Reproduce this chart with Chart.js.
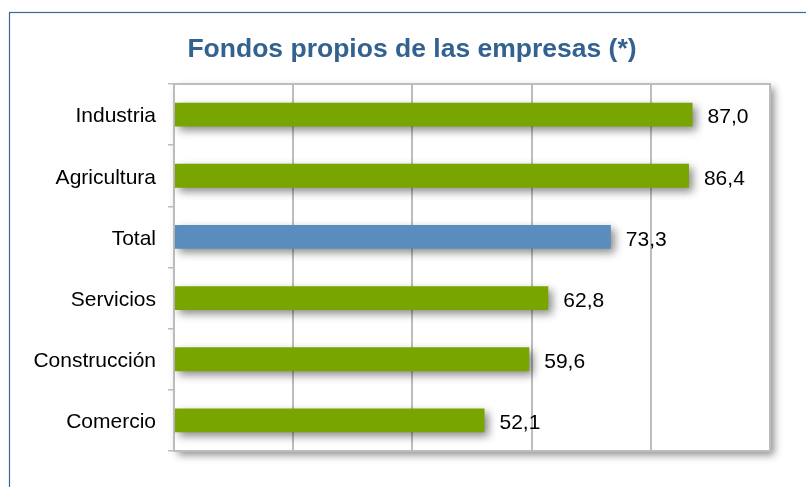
<!DOCTYPE html>
<html>
<head>
<meta charset="utf-8">
<script src="https://cdn.jsdelivr.net/npm/chart.js@4"></script>
<style>
  html, body { margin: 0; padding: 0; background: #ffffff; }
  #wrap { width: 806px; height: 487px; position: relative; }
</style>
</head>
<body>
<div id="wrap"><canvas id="c" width="806" height="487"></canvas></div>
<script>
const titleText = 'Fondos propios de las empresas (*)';
const categories = ['Industria', 'Agricultura', 'Total', 'Servicios', 'Construcción', 'Comercio'];
const values = [87.0, 86.4, 73.3, 62.8, 59.6, 52.1];
const xTicks = [0, 20, 40, 60, 80, 100];

const GREEN = '#78A500';
const BLUE = '#5A8CBE';
const GRID = '#BDBDBD';

const barColors = categories.map(c => c === 'Total' ? BLUE : GREEN);

const decorPlugin = {
  id: 'decor',
  beforeDraw(chart) {
    const ctx = chart.ctx;
    const a = chart.chartArea;
    ctx.save();
    ctx.fillStyle = '#ffffff';
    ctx.fillRect(0, 0, chart.width, chart.height);
    // outer frame
    ctx.strokeStyle = '#3D6890';
    ctx.lineWidth = 1.2;
    ctx.strokeRect(9.5, 12.5, 900, 600);
    // title
    ctx.fillStyle = '#336290';
    ctx.font = 'bold 26.5px "Liberation Sans", Arial, sans-serif';
    ctx.textAlign = 'center';
    ctx.textBaseline = 'alphabetic';
    ctx.fillText(titleText, 412, 57);
    // plot area with shadow
    ctx.shadowColor = 'rgba(0,0,0,0.45)';
    ctx.shadowBlur = 8;
    ctx.shadowOffsetX = 4;
    ctx.shadowOffsetY = 4;
    ctx.fillStyle = '#ffffff';
    ctx.fillRect(a.left, a.top, a.right - a.left, a.bottom - a.top);
    ctx.restore();
  },
  beforeDatasetsDraw(chart) {
    const ctx = chart.ctx;
    const a = chart.chartArea;
    ctx.save();
    ctx.strokeStyle = GRID;
    ctx.lineWidth = 2;
    ctx.strokeRect(a.left, a.top, a.right - a.left, a.bottom - a.top);
    ctx.restore();
    ctx.save();
    ctx.shadowColor = 'rgba(0,0,0,0.45)';
    ctx.shadowBlur = 8;
    ctx.shadowOffsetX = 4;
    ctx.shadowOffsetY = 4;
  },
  afterDatasetsDraw(chart) {
    const ctx = chart.ctx;
    ctx.restore();
    ctx.save();
    ctx.fillStyle = '#000000';
    ctx.font = '21px "Liberation Sans", Arial, sans-serif';
    ctx.textAlign = 'left';
    ctx.textBaseline = 'middle';
    const meta = chart.getDatasetMeta(0);
    meta.data.forEach((bar, i) => {
      const txt = values[i].toFixed(1).replace('.', ',');
      ctx.fillText(txt, bar.x + 15, bar.y + 3);
    });
    ctx.restore();
  }
};

new Chart(document.getElementById('c'), {
  type: 'bar',
  data: {
    labels: categories,
    datasets: [{
      data: values,
      backgroundColor: barColors,
      borderWidth: 0,
      barPercentage: 0.39,
      categoryPercentage: 1.0
    }]
  },
  options: {
    indexAxis: 'y',
    responsive: false,
    animation: false,
    events: [],
    layout: { padding: { top: 84, right: 36, bottom: 36, left: 0 } },
    plugins: { legend: { display: false }, tooltip: { enabled: false }, title: { display: false } },
    scales: {
      x: {
        min: xTicks[0],
        max: xTicks[xTicks.length - 1],
        afterBuildTicks(scale) { scale.ticks = xTicks.map(v => ({ value: v })); },
        ticks: { display: false },
        grid: { color: GRID, lineWidth: 2, drawTicks: false },
        border: { display: true, color: GRID, width: 2 }
      },
      y: {
        afterFit(scale) { scale.width = 174; },
        ticks: {
          color: '#000000',
          font: { family: '"Liberation Sans", Arial, sans-serif', size: 21 },
          padding: 12,
          labelOffset: 2
        },
        grid: { drawOnChartArea: false, drawTicks: true, tickLength: 6, color: GRID, lineWidth: 1.5, offset: true },
        border: { display: true, color: GRID, width: 2 }
      }
    }
  },
  plugins: [decorPlugin]
});
</script>
</body>
</html>
